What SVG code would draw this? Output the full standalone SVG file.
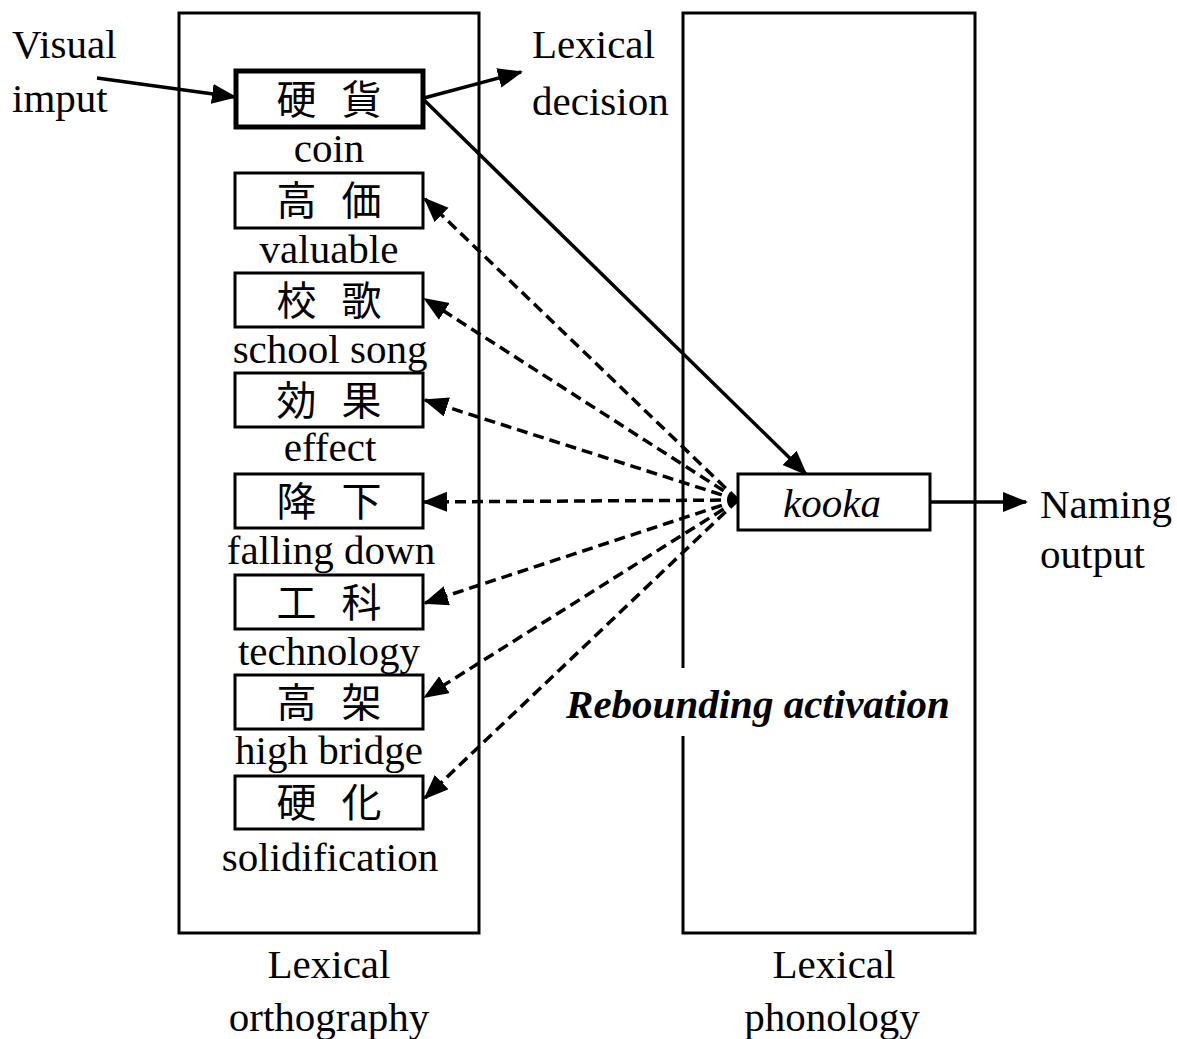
<svg xmlns="http://www.w3.org/2000/svg" width="1177" height="1039" viewBox="0 0 1177 1039">
<style>
.t{font-family:"Liberation Serif","Times New Roman",serif;font-size:41px;fill:#000}
.c{text-anchor:middle}
.cjk{font-family:"Noto Sans CJK JP","Noto Sans CJK SC",sans-serif;font-size:40px;fill:#000;text-anchor:middle;word-spacing:16px}
.box{fill:#fff;stroke:#000;stroke-width:3}
.frame{fill:none;stroke:#000;stroke-width:3}
.solid{stroke:#000;stroke-width:3.5;fill:none}
.dash{stroke:#000;stroke-width:3.5;fill:none;stroke-dasharray:11 6}
</style>
<defs>
<marker id="ah" markerUnits="userSpaceOnUse" markerWidth="28" markerHeight="22" refX="23" refY="10" orient="auto">
<path d="M0,0 L25,10 L0,20 z" fill="#000" stroke="none"/>
</marker>
</defs>
<rect width="1177" height="1039" fill="#fff"/>
<g id="frames">
<rect id="orthography-frame" class="frame" x="179" y="13" width="300" height="920"/>
<path id="phonology-frame" class="frame" d="M683,668 L683,13 L975,13 L975,933 L683,933 L683,736"/>
</g>
<g id="connectors">
<line class="solid" x1="97" y1="78" x2="235" y2="97" marker-end="url(#ah)"/>
<line class="solid" x1="424" y1="98" x2="521" y2="72" marker-end="url(#ah)"/>
<line class="solid" x1="424" y1="100" x2="806" y2="474" marker-end="url(#ah)"/>
<line class="solid" x1="930" y1="502" x2="1026" y2="502" marker-end="url(#ah)"/>
<line class="dash" x1="738" y1="500" x2="425" y2="199" marker-end="url(#ah)"/>
<line class="dash" x1="738" y1="500" x2="425" y2="299" marker-end="url(#ah)"/>
<line class="dash" x1="738" y1="500" x2="425" y2="400" marker-end="url(#ah)"/>
<line class="dash" x1="738" y1="500" x2="424" y2="502" marker-end="url(#ah)"/>
<line class="dash" x1="738" y1="500" x2="425" y2="603" marker-end="url(#ah)"/>
<line class="dash" x1="738" y1="500" x2="425" y2="697" marker-end="url(#ah)"/>
<line class="dash" x1="738" y1="500" x2="425" y2="798" marker-end="url(#ah)"/>
</g>
<g id="input-label">
<text class="t" x="12" y="58">Visual</text>
<text class="t" x="12" y="112">imput</text>
</g>
<g id="decision-label">
<text class="t" x="532" y="58">Lexical</text>
<text class="t" x="532" y="115">decision</text>
</g>
<g id="node-coin">
<rect x="236" y="71" width="187" height="56" fill="#fff" stroke="#000" stroke-width="5"/>
<text class="cjk" x="329" y="114" xml:space="preserve">硬 貨</text>
<text class="t c" x="329" y="162">coin</text>
</g>
<g id="node-valuable">
<rect class="box" x="235" y="173" width="188" height="55"/>
<text class="cjk" x="329" y="215" xml:space="preserve">高 価</text>
<text class="t c" x="329" y="263">valuable</text>
</g>
<g id="node-school-song">
<rect class="box" x="235" y="273" width="188" height="54"/>
<text class="cjk" x="329" y="315" xml:space="preserve">校 歌</text>
<text class="t c" x="330" y="363">school song</text>
</g>
<g id="node-effect">
<rect class="box" x="235" y="373" width="188" height="54"/>
<text class="cjk" x="329" y="415" xml:space="preserve">効 果</text>
<text class="t c" x="330" y="461">effect</text>
</g>
<g id="node-falling-down">
<rect class="box" x="235" y="474" width="188" height="54"/>
<text class="cjk" x="329" y="516" xml:space="preserve">降 下</text>
<text class="t c" x="331" y="564">falling down</text>
</g>
<g id="node-technology">
<rect class="box" x="235" y="575" width="188" height="54"/>
<text class="cjk" x="329" y="617" xml:space="preserve">工 科</text>
<text class="t c" x="329" y="665">technology</text>
</g>
<g id="node-high-bridge">
<rect class="box" x="235" y="675" width="188" height="54"/>
<text class="cjk" x="329" y="717" xml:space="preserve">高 架</text>
<text class="t c" x="329" y="764">high bridge</text>
</g>
<g id="node-solidification">
<rect class="box" x="235" y="776" width="188" height="53"/>
<text class="cjk" x="329" y="817" xml:space="preserve">硬 化</text>
<text class="t c" x="330" y="871">solidification</text>
</g>
<g id="node-kooka">
<rect class="box" x="738" y="474" width="192" height="56"/>
<text class="t c" x="832" y="517" font-style="italic">kooka</text>
</g>
<g id="naming-label">
<text class="t" x="1040" y="518">Naming</text>
<text class="t" x="1040" y="568">output</text>
</g>
<g id="rebounding-label">
<text class="t c" x="758" y="718" font-style="italic" font-weight="bold">Rebounding activation</text>
</g>
<g id="orthography-label">
<text class="t c" x="329" y="978">Lexical</text>
<text class="t c" x="329" y="1031">orthography</text>
</g>
<g id="phonology-label">
<text class="t c" x="834" y="978">Lexical</text>
<text class="t c" x="832" y="1031">phonology</text>
</g>
</svg>
